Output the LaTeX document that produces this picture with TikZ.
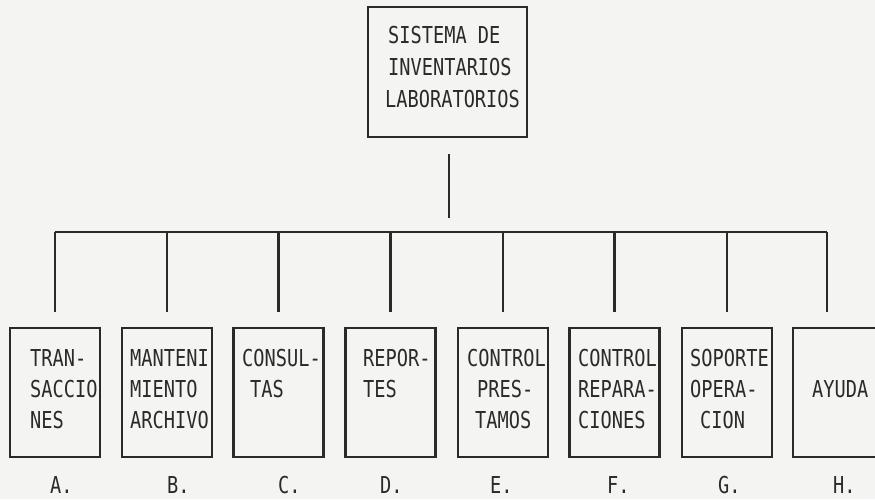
\documentclass[tikz,border=0pt]{standalone}
\usepackage{fontspec}
\newfontfamily\dotfont[FakeStretch=0.80]{DejaVu Sans Mono}
\definecolor{ink}{HTML}{2A2A2A}
\definecolor{paper}{HTML}{F4F4F2}
\begin{document}
\begin{tikzpicture}[x=1pt,y=-1pt,
  box/.style={draw=ink,line width=2.4pt,inner sep=0pt,minimum width=90pt,minimum height=129pt},
  conn/.style={draw=ink,line width=2.2pt},
  txt/.style={anchor=base west,inner sep=0pt,align=left,text=ink,font=\dotfont\fontsize{23.3}{31}\selectfont},
  rtxt/.style={txt,font=\dotfont\fontsize{23.3}{32}\selectfont}]
\fill[paper] (0,0) rectangle (875,499);
\clip (0,0) rectangle (875,499);
\useasboundingbox (0,0) rectangle (875,499);
% boxes
\node[box,minimum width=159pt,minimum height=130pt] (root) at (447.5,72) {};
\node[box] (a) at (55,392.5) {};
\node[box] (b) at (167,392.5) {};
\node[box] (c) at (278.5,392.5) {};
\node[box] (d) at (390.5,392.5) {};
\node[box] (e) at (503,392.5) {};
\node[box] (f) at (614.5,392.5) {};
\node[box] (g) at (727,392.5) {};
\node[box] (h) at (838,392.5) {};
% texts (anchor = baseline of last line)
\node[rtxt] (troot) at (388,107) {SISTEMA DE\\INVENTARIOS\\\hspace{-3pt}LABORATORIOS};
\node[txt] (ta) at (30,428) {TRAN-\\SACCIO\\NES};
\node[txt] (tb) at (130,428) {MANTENI\\MIENTO\\ARCHIVO};
\node[txt] (tc) at (242,397) {CONSUL-\\\hspace{8pt}TAS};
\node[txt] (td) at (363,397) {REPOR-\\TES};
\node[txt] (te) at (467,428) {CONTROL\\\hspace{10pt}PRES-\\\hspace{8pt}TAMOS};
\node[txt] (tf) at (578,428) {CONTROL\\REPARA-\\CIONES};
\node[txt] (tg) at (690,428) {SOPORTE\\OPERA-\\\hspace{10pt}CION};
\node[txt] (th) at (812,397) {AYUDA};
% letters
\node[txt] (la) at (50,493) {A.};
\node[txt] (lb) at (167,493) {B.};
\node[txt] (lc) at (278,493) {C.};
\node[txt] (ld) at (380,493) {D.};
\node[txt] (le) at (490,493) {E.};
\node[txt] (lf) at (607,493) {F.};
\node[txt] (lg) at (718,493) {G.};
\node[txt] (lh) at (833,493) {H.};
% connectors
\coordinate (rb) at (449,232);
\coordinate (busR) at (827,232);
\draw[conn] ([xshift=1.5pt,yshift=-16pt]root.south) -- ([xshift=1.5pt,yshift=-80pt]root.south);
\draw[conn] (a.north |- rb) -- (busR);
\foreach \n in {a,b,c,d,e,f,g}{
  \draw[conn] (\n.north |- rb) -- ([yshift=15pt]\n.north);
}
\draw[conn] (busR) -- ([xshift=-11pt,yshift=15pt]h.north);
\end{tikzpicture}
\end{document}
